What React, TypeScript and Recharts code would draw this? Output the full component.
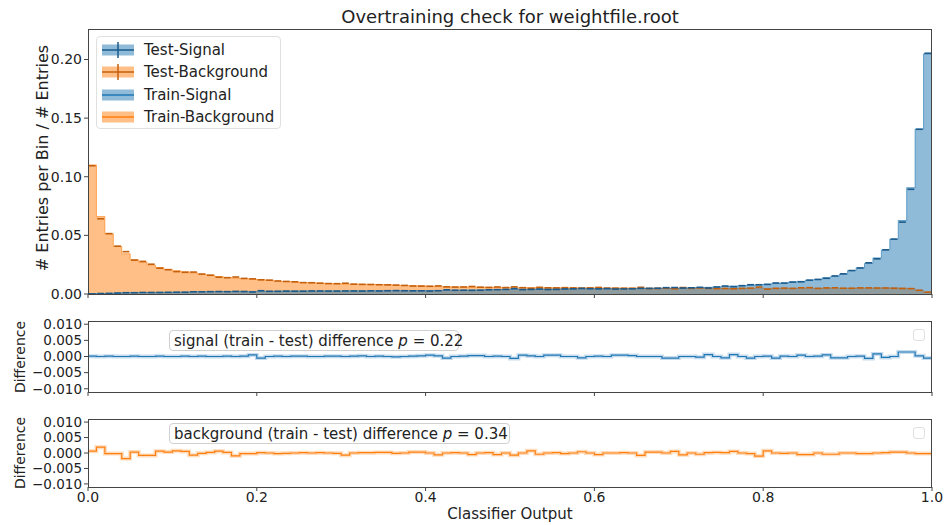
import { ComposedChart, Area, Line, Scatter, XAxis, YAxis } from "recharts";

const N_BINS = 100;
const BLUE = "#1f77b4";
const ORANGE = "#ff7f0e";
const DARK_BLUE = "#1b5a8a";
const DARK_ORANGE = "#c45f0c";
const AXIS = "#444";
const FONT = "DejaVu Sans, sans-serif";

// train histograms, normalised entries per bin (bin width 0.01)
const SIGNAL_TRAIN = [
  0.0002, 0.0004, 0.0006, 0.0008, 0.0011, 0.0012, 0.0013, 0.0013, 0.0014, 0.0014,
  0.0015, 0.0016, 0.0019, 0.002, 0.002, 0.0021, 0.0021, 0.0022, 0.0022, 0.0022,
  0.0023, 0.0023, 0.0024, 0.0025, 0.0025, 0.0025, 0.0026, 0.0026, 0.0026, 0.0026,
  0.0026, 0.0027, 0.0027, 0.0027, 0.0027, 0.0028, 0.0028, 0.0028, 0.0028, 0.0029,
  0.0029, 0.003, 0.0031, 0.0032, 0.0033, 0.0034, 0.0035, 0.0036, 0.0038, 0.0039,
  0.004, 0.0041, 0.0041, 0.0042, 0.0042, 0.0043, 0.0043, 0.0044, 0.0044, 0.0045,
  0.0045, 0.0046, 0.0046, 0.0047, 0.0047, 0.0048, 0.0048, 0.0049, 0.0049, 0.005,
  0.0051, 0.0053, 0.0055, 0.0057, 0.006, 0.0064, 0.0068, 0.0071, 0.0074, 0.0079,
  0.0083, 0.0089, 0.0094, 0.0102, 0.0108, 0.0118, 0.0125, 0.0139, 0.015, 0.0168,
  0.02, 0.0223, 0.026, 0.0308, 0.0374, 0.0468, 0.0627, 0.0907, 0.1407, 0.2048,
];

const BACKGROUND_TRAIN = [
  0.11, 0.066, 0.0513, 0.0406, 0.0343, 0.0292, 0.027, 0.0246, 0.0226, 0.021,
  0.0198, 0.019, 0.018, 0.0169, 0.0162, 0.0149, 0.0141, 0.0136, 0.0131, 0.0127,
  0.0122, 0.0118, 0.0109, 0.0106, 0.0104, 0.0098, 0.0096, 0.0093, 0.0089, 0.0087,
  0.0085, 0.0084, 0.0083, 0.0082, 0.0081, 0.008, 0.0075, 0.0073, 0.0071, 0.007,
  0.0066, 0.0063, 0.0061, 0.006, 0.006, 0.0059, 0.0058, 0.0057, 0.0055, 0.0055,
  0.0054, 0.0054, 0.0055, 0.0053, 0.0053, 0.0053, 0.0052, 0.0052, 0.0053, 0.0052,
  0.0051, 0.005, 0.005, 0.005, 0.0049, 0.0049, 0.0049, 0.005, 0.0049, 0.0049,
  0.0049, 0.0048, 0.0048, 0.0049, 0.0048, 0.0048, 0.0049, 0.0048, 0.0048, 0.0049,
  0.0048, 0.0048, 0.0049, 0.0048, 0.0048, 0.0049, 0.0048, 0.0048, 0.0049, 0.0049,
  0.0049, 0.005, 0.005, 0.0051, 0.0052, 0.0052, 0.005, 0.0046, 0.003, 0.0014,
];

// train - test differences per bin
const SIGNAL_DIFF = [
  0.0001, 0, 0.0001, 0, 0, 0.0001, 0, 0, 0.0001, 0,
  0, 0.0001, 0, 0.0001, 0, 0, 0.0001, 0, 0.0001, 0.0005,
  -0.0005, 0, 0.0001, 0, 0.0001, 0.0001, 0, 0, 0.0001, 0.0001,
  0, 0.0001, 0.0002, 0, 0.0001, 0, -0.0001, 0, 0.0001, 0.0002,
  0.0004, 0.0002, -0.0005, 0, 0.0001, 0.0003, 0.0003, 0, 0.0001, 0,
  -0.0006, 0.0004, 0.0002, 0, 0.0004, 0.0004, 0, 0, -0.0004, 0,
  0.0001, 0, 0.0004, 0.0004, 0.0003, 0, 0, 0, -0.0005, -0.0005,
  0, 0, -0.0002, 0.0006, 0, -0.0004, 0.0006, 0, -0.0005, 0,
  0.0001, -0.0005, 0.0001, 0, 0.0004, 0, 0.0001, 0.0005, -0.0004, -0.0004,
  0, 0.0001, -0.0006, 0.0008, -0.0003, 0, 0.0014, 0.0014, 0.0002, -0.0005,
];

const BACKGROUND_DIFF = [
  0.0006, 0.0019, -0.0002, -0.0002, -0.0018, 0.0003, -0.0008, -0.0008, 0.0006, 0.0003,
  0.0007, 0.0005, -0.0007, -0.0001, 0.0002, 0.0006, 0.0002, -0.0009, -0.0002, -0.0002,
  0.0001, 0, -0.0002, -0.0001, 0, 0.0001, 0, 0.0001, 0, -0.0001,
  -0.0007, 0, 0.0001, 0.0001, 0.0002, 0.0002, -0.0001, 0, 0.0003, 0.0003,
  0, -0.0006, 0, 0.0001, 0, -0.0005, 0, 0.0001, -0.0005, 0,
  -0.0007, 0, 0.0007, -0.0004, 0, 0.0001, -0.0002, 0, 0.0004, 0,
  -0.0005, 0, 0, 0.0001, 0, -0.0008, 0.0003, 0.0003, 0, 0.0005,
  -0.0006, 0, -0.0004, 0.0001, 0.0002, 0.0001, 0.0005, 0, -0.0002, -0.001,
  0.0007, 0, -0.0001, 0, -0.0005, -0.0005, 0, -0.0004, -0.0004, 0,
  0, -0.0002, -0.0002, 0, 0.0001, 0.0003, 0.0003, 0, -0.0002, -0.0002,
];

const X_TICKS = [0, 0.2, 0.4, 0.6, 0.8, 1.0];
const MAIN_Y_TICKS = [0, 0.05, 0.1, 0.15, 0.2];
const DIFF_Y_TICKS = [-0.01, -0.005, 0, 0.005, 0.01];

const LEGEND_ITEMS = [
  { label: "Test-Signal", color: BLUE, dark: DARK_BLUE, kind: "test" },
  { label: "Test-Background", color: ORANGE, dark: DARK_ORANGE, kind: "test" },
  { label: "Train-Signal", color: BLUE, dark: BLUE, kind: "train" },
  { label: "Train-Background", color: ORANGE, dark: ORANGE, kind: "train" },
];

// rows at bin edges for the step shapes (last edge repeats the last bin)
const edgeRows = Array.from({ length: N_BINS + 1 }, (_, i) => {
  const k = Math.min(i, N_BINS - 1);
  return {
    x: i / N_BINS,
    sig: SIGNAL_TRAIN[k],
    bkg: BACKGROUND_TRAIN[k],
    sigDiff: SIGNAL_DIFF[k],
    bkgDiff: BACKGROUND_DIFF[k],
  };
});

// test points at bin centres: test = train - (train - test)
const testSignal = SIGNAL_TRAIN.map((v, i) => ({ x: (i + 0.5) / N_BINS, y: v - SIGNAL_DIFF[i] }));
const testBackground = BACKGROUND_TRAIN.map((v, i) => ({
  x: (i + 0.5) / N_BINS,
  y: v - BACKGROUND_DIFF[i],
}));

const dash = (color: string) => (props: any) => (
  <line
    x1={props.cx - 3.4}
    x2={props.cx + 3.4}
    y1={props.cy}
    y2={props.cy}
    stroke={color}
    strokeWidth={1.6}
  />
);

const fmtDiff = (v: number) => v.toFixed(3).replace("-", "\u2212");

const frame = (top: number, height: number) => (
  <div
    style={{
      position: "absolute",
      left: 88,
      top,
      width: 844,
      height,
      border: `1px solid ${AXIS}`,
      boxSizing: "border-box",
      pointerEvents: "none",
    }}
  />
);

const vLabel = (text: string, cx: number, cy: number, size: number) => (
  <div
    style={{
      position: "absolute",
      left: cx,
      top: cy,
      transform: "translate(-50%, -50%) rotate(-90deg)",
      whiteSpace: "nowrap",
      fontSize: size,
      color: "#222",
    }}
  >
    {text}
  </div>
);

const annotation = (name: string, p: string, top: number, width: number) => (
  <div
    style={{
      position: "absolute",
      left: 169,
      top,
      width,
      height: 21,
      lineHeight: "20px",
      border: "1px solid #d0d0d0",
      borderRadius: 4,
      boxSizing: "border-box",
      paddingLeft: 4,
      fontSize: 15,
      color: "#222",
      background: "rgba(255,255,255,0.8)",
      whiteSpace: "nowrap",
    }}
  >
    {name} (train - test) difference <i>p</i> = {p}
  </div>
);

const emptyBox = (top: number) => (
  <div
    style={{
      position: "absolute",
      left: 913,
      top,
      width: 12,
      height: 12,
      border: "1px solid #e0e0e0",
      borderRadius: 3,
      boxSizing: "border-box",
    }}
  />
);

const tickStyle = { fontSize: 14, fill: "#222", fontFamily: FONT };
const diffTickStyle = { fontSize: 13.5, fill: "#222", fontFamily: FONT };

export default function App() {
  return (
    <div
      style={{
        position: "absolute",
        left: 0,
        top: 0,
        width: 946,
        height: 525,
        background: "#fff",
        fontFamily: FONT,
      }}
    >
      <div
        style={{
          position: "absolute",
          left: 88,
          width: 844,
          top: 6,
          textAlign: "center",
          fontSize: 18,
          color: "#222",
        }}
      >
        Overtraining check for weightfile.root
      </div>

      {/* main histogram */}
      <div style={{ position: "absolute", left: 0, top: 0 }}>
        <ComposedChart
          width={946}
          height={310}
          data={edgeRows}
          margin={{ top: 29, right: 14, bottom: 10, left: 0 }}
        >
          <XAxis
            dataKey="x"
            type="number"
            domain={[0, 1]}
            ticks={X_TICKS}
            interval={0}
            allowDataOverflow
            height={6}
            tickSize={4}
            tickFormatter={() => ""}
            axisLine={false}
            tickLine={{ stroke: AXIS }}
          />
          <YAxis
            type="number"
            domain={[0, 0.226]}
            ticks={MAIN_Y_TICKS}
            interval={0}
            allowDataOverflow
            width={88}
            tickSize={4}
            tickMargin={2}
            axisLine={false}
            tickLine={{ stroke: AXIS }}
            tick={tickStyle}
            tickFormatter={(v: number) => v.toFixed(2)}
          />
          <Area
            type="stepAfter"
            dataKey="bkg"
            fill={ORANGE}
            fillOpacity={0.5}
            stroke={ORANGE}
            strokeOpacity={0.6}
            strokeWidth={1}
            isAnimationActive={false}
          />
          <Area
            type="stepAfter"
            dataKey="sig"
            fill={BLUE}
            fillOpacity={0.5}
            stroke={BLUE}
            strokeOpacity={0.6}
            strokeWidth={1}
            isAnimationActive={false}
          />
          <Scatter data={testBackground} dataKey="y" shape={dash(DARK_ORANGE)} isAnimationActive={false} />
          <Scatter data={testSignal} dataKey="y" shape={dash(DARK_BLUE)} isAnimationActive={false} />
        </ComposedChart>
      </div>

      {/* signal difference */}
      <div style={{ position: "absolute", left: 0, top: 300 }}>
        <ComposedChart
          width={946}
          height={100}
          data={edgeRows}
          margin={{ top: 21, right: 14, bottom: 0, left: 0 }}
        >
          <XAxis
            dataKey="x"
            type="number"
            domain={[0, 1]}
            ticks={X_TICKS}
            interval={0}
            allowDataOverflow
            height={8}
            tickSize={4}
            tickFormatter={() => ""}
            axisLine={false}
            tickLine={{ stroke: AXIS }}
          />
          <YAxis
            type="number"
            domain={[-0.011, 0.011]}
            ticks={DIFF_Y_TICKS}
            interval={0}
            allowDataOverflow
            width={88}
            tickSize={4}
            tickMargin={2}
            axisLine={false}
            tickLine={{ stroke: AXIS }}
            tick={diffTickStyle}
            tickFormatter={fmtDiff}
          />
          <Line
            type="stepAfter"
            dataKey="sigDiff"
            stroke="#c6dcee"
            strokeWidth={4}
            dot={false}
            isAnimationActive={false}
          />
          <Line
            type="stepAfter"
            dataKey="sigDiff"
            stroke={BLUE}
            strokeWidth={1.2}
            dot={false}
            isAnimationActive={false}
          />
        </ComposedChart>
      </div>

      {/* background difference */}
      <div style={{ position: "absolute", left: 0, top: 400 }}>
        <ComposedChart
          width={946}
          height={125}
          data={edgeRows}
          margin={{ top: 19, right: 14, bottom: 0, left: 0 }}
        >
          <XAxis
            dataKey="x"
            type="number"
            domain={[0, 1]}
            ticks={X_TICKS}
            interval={0}
            allowDataOverflow
            height={38}
            tickSize={4}
            tickMargin={1}
            axisLine={false}
            tickLine={{ stroke: AXIS }}
            tick={tickStyle}
            tickFormatter={(v: number) => v.toFixed(1)}
          />
          <YAxis
            type="number"
            domain={[-0.011, 0.011]}
            ticks={DIFF_Y_TICKS}
            interval={0}
            allowDataOverflow
            width={88}
            tickSize={4}
            tickMargin={2}
            axisLine={false}
            tickLine={{ stroke: AXIS }}
            tick={diffTickStyle}
            tickFormatter={fmtDiff}
          />
          <Line
            type="stepAfter"
            dataKey="bkgDiff"
            stroke="#ffdcbd"
            strokeWidth={4}
            dot={false}
            isAnimationActive={false}
          />
          <Line
            type="stepAfter"
            dataKey="bkgDiff"
            stroke={ORANGE}
            strokeWidth={1.2}
            dot={false}
            isAnimationActive={false}
          />
        </ComposedChart>
      </div>

      {frame(29, 266)}
      {frame(321, 72)}
      {frame(419, 69)}

      {/* legend of the main panel */}
      <div
        style={{
          position: "absolute",
          left: 96,
          top: 36,
          width: 185,
          height: 93,
          border: "1px solid #e0e0e0",
          borderRadius: 4,
          boxSizing: "border-box",
          background: "rgba(255,255,255,0.8)",
          paddingTop: 2,
        }}
      >
        {LEGEND_ITEMS.map((item) => (
          <div key={item.label} style={{ display: "flex", alignItems: "center", height: 22.3 }}>
            <svg width={46} height={18} style={{ flex: "none" }}>
              <rect x={5} y={3.5} width={32} height={11} fill={item.color} fillOpacity={0.5} />
              <line x1={5} x2={37} y1={9} y2={9} stroke={item.dark} strokeWidth={1.5} />
              {item.kind === "test" && (
                <line x1={21} x2={21} y1={1} y2={17} stroke={item.dark} strokeWidth={1.5} />
              )}
            </svg>
            <span style={{ fontSize: 15, color: "#222", marginLeft: 1 }}>{item.label}</span>
          </div>
        ))}
      </div>

      {annotation("signal", "0.22", 330, 290)}
      {annotation("background", "0.34", 423, 341)}
      {emptyBox(329)}
      {emptyBox(427)}

      {vLabel("# Entries per Bin / # Entries", 42, 158, 16)}
      {vLabel("Difference", 20, 357, 14)}
      {vLabel("Difference", 20, 453, 14)}

      <div
        style={{
          position: "absolute",
          left: 88,
          width: 844,
          top: 505,
          textAlign: "center",
          fontSize: 15,
          color: "#222",
        }}
      >
        Classifier Output
      </div>
    </div>
  );
}
